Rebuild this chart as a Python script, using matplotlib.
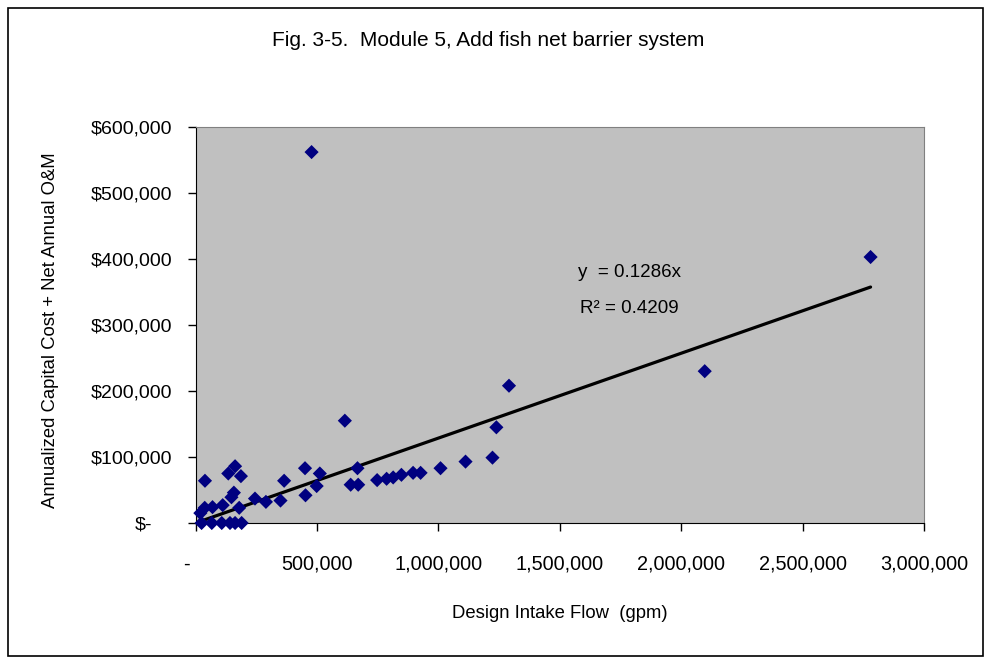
import numpy as np
import matplotlib
matplotlib.use("Agg")
import matplotlib.pyplot as plt
from matplotlib.patches import Rectangle
from matplotlib.transforms import ScaledTranslation

# design intake flow (gpm) and annualized cost ($)
flow = [20e3, 25e3, 39e3, 38e3, 67e3, 70e3, 108e3, 112e3, 142e3, 163e3,
        190e3, 135e3, 163e3, 187e3, 158e3, 148e3, 180e3, 245e3, 290e3, 350e3,
        365e3, 451e3, 453e3, 478e3, 499e3, 512e3, 615e3, 639e3, 670e3, 667e3,
        748e3, 787e3, 814e3, 848e3, 896e3, 927e3, 1009e3, 1112e3, 1223e3, 1239e3,
        1291e3, 2097e3, 2780e3]
cost = [15e3, 0, 64e3, 23e3, 0, 24e3, 0, 27e3, 0, 0,
        0, 75e3, 86e3, 71e3, 46e3, 39e3, 23e3, 37e3, 32e3, 34e3,
        64e3, 83e3, 42e3, 562e3, 56e3, 75e3, 155e3, 58e3, 58e3, 83e3,
        65e3, 67e3, 69e3, 73e3, 76e3, 76e3, 83e3, 93e3, 99e3, 145e3,
        208e3, 230e3, 403e3]

slope = 0.1286
r2 = 0.4209

xticks = [0, 500000, 1000000, 1500000, 2000000, 2500000, 3000000]
xlabels = ["-", "500,000", "1,000,000", "1,500,000", "2,000,000", "2,500,000", "3,000,000"]
yticks = [0, 100000, 200000, 300000, 400000, 500000, 600000]
ylabels = ["$-", "$100,000", "$200,000", "$300,000", "$400,000", "$500,000", "$600,000"]

plt.rcParams['font.family'] = ['Liberation Sans', 'DejaVu Sans']

W, H = 984, 663
fig = plt.figure(figsize=(W/100, H/100), dpi=100)
fig.patches.append(Rectangle((7.5/W, 1-655.5/H), 975/W, 648/H, transform=fig.transFigure,
                             fill=False, edgecolor='black', lw=1.2))

ax = fig.add_axes([195.5/W, 1-523/H, (924-195.5)/W, (523-127)/H])
ax.set_facecolor('#C0C0C0')
ax.set_xlim(0, 3000000)
ax.set_ylim(0, 600000)

x = np.array(flow)
tx = np.array([x.min(), x.max()])
ax.plot(tx, slope*tx, color='black', lw=2.3, solid_capstyle='round', zorder=2)
ax.scatter(flow, cost, marker='D', s=52, color='#000080', edgecolors='none', zorder=3, clip_on=False)

ax.set_xticks(xticks)
ax.set_xticklabels(xlabels, fontsize=14.3)
ax.set_yticks(yticks)
ax.set_yticklabels(ylabels, fontsize=14)
ax.tick_params(axis='both', direction='out', length=6, width=1, color='black')
ax.tick_params(axis='x', pad=17)
ax.tick_params(axis='y', pad=11)
# accounting format style offsets for the zero labels
ax.get_xticklabels()[0].set_transform(ax.get_xticklabels()[0].get_transform()
                                      + ScaledTranslation(-9/100, 0, fig.dpi_scale_trans))
ax.get_yticklabels()[0].set_transform(ax.get_yticklabels()[0].get_transform()
                                      + ScaledTranslation(-20/100, 0, fig.dpi_scale_trans))

for s in ['top', 'right']:
    ax.spines[s].set_color('#808080')
for s in ['left', 'bottom']:
    ax.spines[s].set_color('black')

ax.text(1575000, 372000, "y  = 0.1286x", fontsize=13.5)
ax.text(1585000, 318000, "R\u00b2 = 0.4209", fontsize=13.5)

fig.text(488/W, 1-40/H, "Fig. 3-5.  Module 5, Add fish net barrier system", ha='center', va='center', fontsize=15)
fig.text(560/W, 1-614/H, "Design Intake Flow  (gpm)", ha='center', va='center', fontsize=13.3)
fig.text(51/W, 1-330/H, "Annualized Capital Cost + Net Annual O&M", ha='center', va='center',
         rotation=90, fontsize=13.3)

fig.savefig("out.png", dpi=100)
